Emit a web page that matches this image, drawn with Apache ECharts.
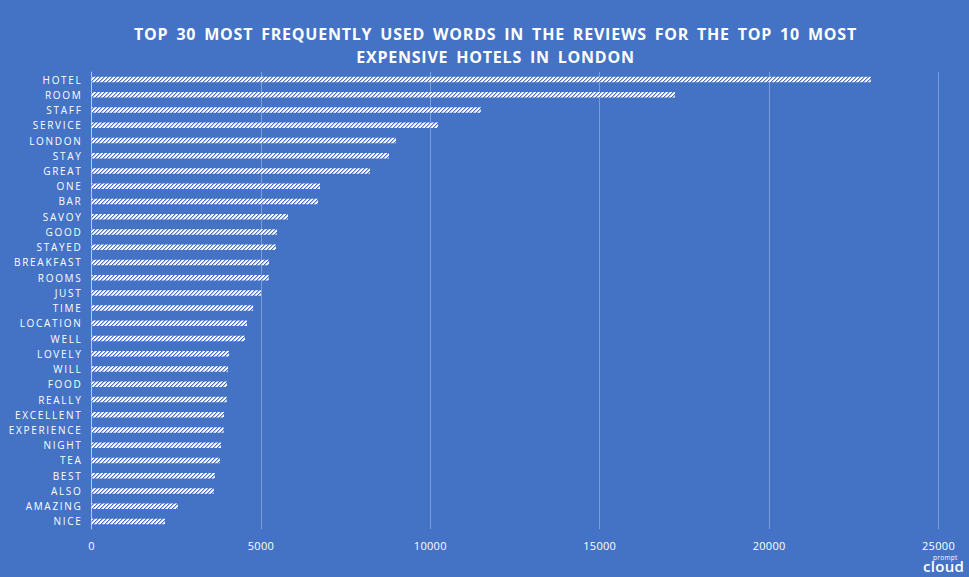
<!DOCTYPE html>
<html>
<head>
<meta charset="utf-8">
<style>
html,body{margin:0;padding:0;background:#4472C4;}
#chart{width:969px;height:577px;}
/* letter spacing of the labels, svg renderer only */
#chart text{letter-spacing:.3px;}
#chart text[text-anchor="end"]{letter-spacing:1.7px;}
#chart text[style*="bold"],#chart text[font-weight="bold"]{letter-spacing:.78px;word-spacing:3px;}
</style>
<script src="https://cdn.jsdelivr.net/npm/echarts@6/dist/echarts.min.js"></script>
</head>
<body>
<div id="chart"></div>
<script>
//词频数据
var words = ['HOTEL','ROOM','STAFF','SERVICE','LONDON','STAY','GREAT','ONE','BAR','SAVOY','GOOD','STAYED','BREAKFAST','ROOMS','JUST','TIME','LOCATION','WELL','LOVELY','WILL','FOOD','REALLY','EXCELLENT','EXPERIENCE','NIGHT','TEA','BEST','ALSO','AMAZING','NICE'];
var counts = [23000,17220,11490,10230,8990,8780,8220,6745,6685,5800,5475,5445,5240,5230,5000,4770,4590,4530,4060,4030,4000,3990,3910,3900,3820,3790,3640,3610,2550,2170];
var titleText = 'TOP 30 MOST FREQUENTLY USED WORDS IN THE REVIEWS FOR THE TOP 10 MOST\nEXPENSIVE HOTELS IN LONDON';

//斜纹填充
var stripeTile = function() {
	var tile = document.createElement('canvas');
	tile.width = 4;
	tile.height = 4;
	var ctx = tile.getContext('2d');
	for(var x = 0; x < 4; x++) {
		for(var y = 0; y < 4; y++) {
			var d = (x + y) % 4;
			ctx.fillStyle = d == 0 ? '#4472C4' : (d == 1 ? '#a9bee4' : '#ffffff');
			ctx.fillRect(x, y, 1, 1);
		}
	}
	return tile;
};

var chart = echarts.init(document.getElementById('chart'), null, {renderer: 'svg'});
chart.setOption({
	animation: false,
	backgroundColor: '#4472C4',
	textStyle: {fontFamily: '"Open Sans"'},
	title: {
		text: titleText,
		left: 490.5,
		top: 17,
		textAlign: 'center',
		textStyle: {color: '#fff', fontSize: 16, fontWeight: 'bold', lineHeight: 23, fontFamily: '"Open Sans"'}
	},
	grid: {left: 91.5, right: 30.5, top: 72, bottom: 48},
	xAxis: {
		type: 'value',
		min: 0,
		max: 25000,
		interval: 5000,
		axisLine: {show: false},
		axisTick: {show: false},
		axisLabel: {
			color: '#fff',
			fontSize: 11,
			margin: 11,
			formatter: function(value) {
				return String(value);
			}
		},
		splitLine: {lineStyle: {color: 'rgba(255,255,255,0.3)', width: 1}}
	},
	yAxis: {
		type: 'category',
		inverse: true,
		data: words,
		axisLine: {lineStyle: {color: 'rgba(255,255,255,0.45)', width: 1}},
		axisTick: {show: false},
		axisLabel: {color: '#fff', fontSize: 10, margin: 9, interval: 0, padding: [-1, 0, 0, 0]}
	},
	series: [{
		type: 'bar',
		data: counts,
		barWidth: 5.5,
		itemStyle: {
			color: {image: stripeTile(), repeat: 'repeat'}
		}
	}],
	graphic: [
		{type: 'text', left: 923, top: 558, style: {text: 'cloud', fill: '#fff', font: '600 15px "Open Sans"'}},
		{type: 'text', left: 933, top: 554, style: {text: 'prompt', fill: '#fff', font: '6.5px "Open Sans"'}}
	]
});
</script>
</body>
</html>
